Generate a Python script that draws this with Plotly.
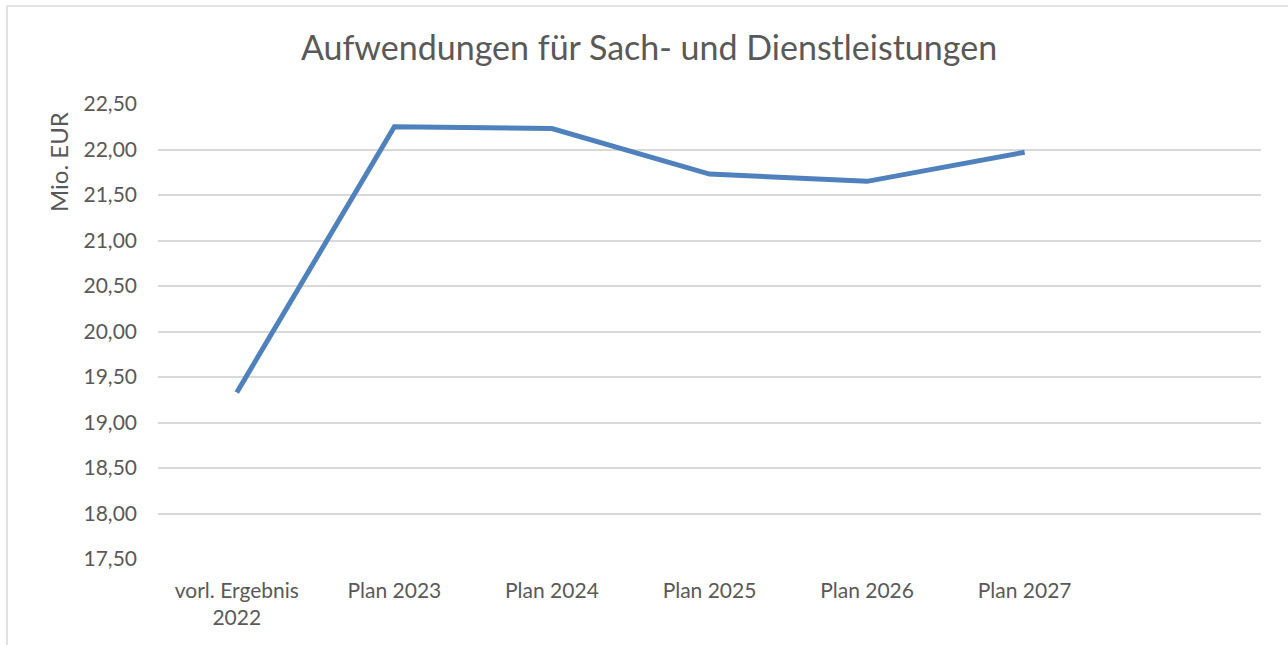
import plotly.graph_objects as go

categories = ["vorl. Ergebnis<br>2022", "Plan 2023", "Plan 2024", "Plan 2025", "Plan 2026", "Plan 2027"]
values = [19.33, 22.25, 22.23, 21.73, 21.65, 21.97]
y_ticks = [17.5, 18.0, 18.5, 19.0, 19.5, 20.0, 20.5, 21.0, 21.5, 22.0, 22.5]
y_ticktext = ["17,50", "18,00", "18,50", "19,00", "19,50", "20,00", "20,50", "21,00", "21,50", "22,00", "22,50"]
title = "Aufwendungen für Sach- und Dienstleistungen"
y_title = "Mio. EUR"

W, H = 1288, 645
ml, mr, mt, mb = 158, 27, 104, 86
pw = W - ml - mr
ph = H - mt - mb


def px_x(x):
    return (x - ml) / pw


def px_y(y):
    return (H - mb - y) / ph


xs = list(range(len(categories)))

fig = go.Figure()
fig.add_trace(go.Scatter(
    x=xs, y=values, mode="lines",
    line=dict(color="#4F81BD", width=5),
    hoverinfo="skip", showlegend=False,
))

fig.update_layout(
    width=W, height=H,
    margin=dict(l=ml, r=mr, t=mt, b=mb),
    paper_bgcolor="white", plot_bgcolor="white",
    font=dict(family="Lato, Open Sans, sans-serif", color="#595959"),
    title=dict(text=title, x=(298 + 1000) / 2 / W, xanchor="center",
               y=1 - 48 / H, yanchor="middle",
               font=dict(size=34, color="#595959")),
    xaxis=dict(
        range=[-0.5, len(categories) + 0.5],
        tickmode="array", tickvals=xs, ticktext=categories,
        showgrid=False, zeroline=False, showline=False, ticks="",
        tickfont=dict(size=21, color="#595959"),
        ticklabelstandoff=17,
        fixedrange=True,
    ),
    yaxis=dict(
        range=[17.5, 22.5],
        tickmode="array", tickvals=y_ticks, ticktext=y_ticktext,
        showgrid=True, gridcolor="#D9D9D9", gridwidth=1.5,
        zeroline=False, showline=False, ticks="",
        tickfont=dict(size=21, color="#595959"),
        ticklabelstandoff=20,
        fixedrange=True,
    ),
    annotations=[
        dict(text=y_title, xref="paper", yref="paper",
             x=px_x(58), y=px_y(162), xanchor="center", yanchor="middle",
             textangle=-90, showarrow=False,
             font=dict(size=24, color="#595959")),
    ],
    shapes=[
        dict(type="line", xref="paper", yref="paper",
             x0=px_x(7), x1=px_x(7),
             y0=px_y(6), y1=px_y(660),
             line=dict(color="#D9D9D9", width=1.5)),
        dict(type="line", xref="paper", yref="paper",
             x0=px_x(7), x1=px_x(1300),
             y0=px_y(6), y1=px_y(6),
             line=dict(color="#D9D9D9", width=1.5)),
    ],
)

fig.write_html(
    "out.html",
    config={"displayModeBar": False},
    post_script="document.body.style.margin='0';document.body.style.overflow='hidden';",
)
